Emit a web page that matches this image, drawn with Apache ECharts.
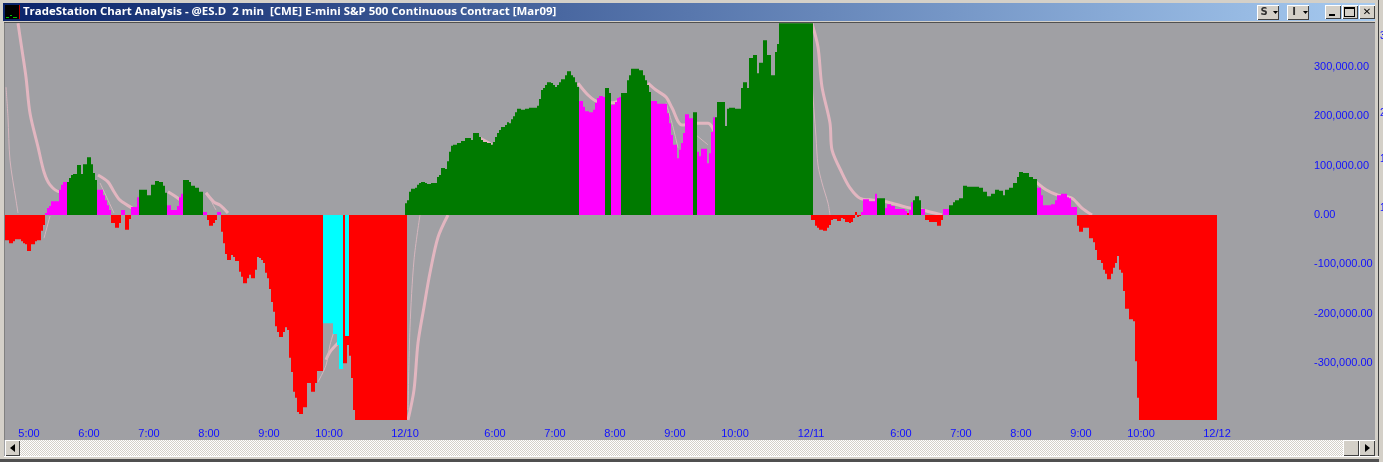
<!DOCTYPE html>
<html><head><meta charset="utf-8"><style>html,body{margin:0;padding:0;background:#D4D0C8;overflow:hidden}#c{width:1383px;height:462px}</style>
<script src="https://cdn.jsdelivr.net/npm/echarts@6/dist/echarts.min.js"></script></head>
<body><div id="c"></div>
<script>
// values in thousands, one per 2-minute bar
const red1=[-51,-51,-57,-57,-53,-49,-49,-49,-53,-57,-59,-73,-73,-59,-59,-53,-51,-51,-32,-20];
const mag1=[4,14,18,28,28,28,28,51,61,67,67];
const grn1=[67,75,81,83,83,101,101,83,103,103,117,117,103,85,71];
const mag2=[51,51,51,40,30,20,10];
const red2=[-16,-16,-26,-26,-16];
const mag3=[10,10];
const red3=[-30,-30,-8];
const mag4=[16,16,16,36];
const grn2=[51,51,51,51,40,40,61,61,69,69,67,67,59,45];
const mag5=[20,20,10,10,10,18,36,43];
const grn3=[71,71,71,67,59,59,55,55,47,47];
const mag6=[6,6];
const red4=[-10,-22,-22,-16,-10];
const mag7=[6,6];
const red5=[-34,-57,-79,-91,-91,-81,-85,-93,-93,-115,-125,-138,-138,-128,-121,-128,-128,-111,-85,-87,-91,-97,-117,-128,-150,-176,-196,-225,-237,-247,-247,-237,-227,-233,-289,-318,-358,-370,-399,-403,-403,-389,-389,-340,-340,-358,-358,-340,-316,-316,-316];
const cyn1=[-219,-219,-219,-219,-219,-241,-241,-263,-312,-312];
const red6=[-300,-300,-263,-285,-330,-395,-415,-415,-415,-415,-415,-415,-415,-415,-415,-415,-415,-415,-415,-415,-415,-415,-415,-415,-415,-415,-415,-415,-415,-415,-415,-415];
const cyn2=[-245,-245];
const grn4=[24,30,47,53,53,55,61,65,67,67,65,63,63,65,65,65,77,81,95,95,93,109,128,140,142,142,146,146,150,150,156,156,156,152,166,166,166,158,152,148,148,146,146,142,148,158,166,172,178,178,182,188];
const grn5=[186,194,200,208,215,215,213,213,215,215,217,217,217,217,221,235,253,257,263,269,269,267,263,259,263,269,275,275,283,291,291,283,279,269,259];
const mag8=[231,231,219,210,210,208,208,213,227,237,241,241,239];
const grn6=[257,257,247];
const mag9=[223,223,229,237,239];
const grn7=[247,247,247,273,283,296,296,296,296,293,293,283,273,263,249];
const mag10=[231,231,231,225,225,225,225,225,206,186,162,142,142,115,132,146,166,204,204,196,196];
const grn8=[208,208];
const mag11=[128,119,134,134,134,105,125,168,198];
const grn9=[198,229,229,229,229,180,215,217,217,217,215,215,215,257,269,269,257,318,318,324,324,287,308,308,354,354,324,324,283,283,330,346,388,388,388,388,388,388,388,388,388,388,388,388,388,388,388,388,388];
const red7=[-10,-10,-22,-26,-30,-30,-32,-32,-26,-20,-10,-8,-8,-12,-12,-6,-8,-14,-14,-16,-14,-6,6,-4,-2];
const mag12=[6,32,32,32,28,28,28,43];
const grn10=[34,34,34,34];
const mag13=[14,22,22,18,18,12,12,12,12,12,8];
const red8=[4];
const mag14=[10,26];
const grn11=[30,38,38,30];
const mag15=[12,12];
const red9=[-10,-10,-14,-14,-14,-14,-22,-22,-10];
const mag16=[12,12,12];
const grn12=[20,20,26,30,30,34,34,59,59,57,57,57,57,57,57,55,55,47,47,38,38,43,43,51,51,49,49,40,51,51,55,55,65,65,77,87,87,85,85,85,77,77,73,73];
const mag17=[55,55,40,20,20,20,20,22,22,30,40,40,43,43,43,36,34,16,16,16];
const red10=[-22,-34,-34,-26,-26,-26,-47,-47,-55,-71,-91,-91,-97,-111,-119,-130,-130,-119,-107,-97,-83,-111,-117,-154,-190,-190,-211,-211,-215,-296,-370,-415,-415,-415,-415,-415,-415,-415,-415,-415,-415,-415,-415,-415,-415,-415,-415,-415,-415,-415,-415,-415,-415,-415,-415,-415,-415,-415,-415,-415,-415,-415,-415,-415,-415,-415,-415,-415,-415,-415];
// [first bar index, values]
const redRuns=[[0,red1],[53,red2],[60,red3],[101,red4],[108,red5],[169,red6],[403,red7],[451,red8],[460,red9],[536,red10]];
const magRuns=[[20,mag1],[46,mag2],[58,mag3],[63,mag4],[81,mag5],[99,mag6],[106,mag7],[287,mag8],[303,mag9],[323,mag10],[346,mag11],[428,mag12],[440,mag13],[452,mag14],[458,mag15],[469,mag16],[516,mag17]];
const grnRuns=[[31,grn1],[67,grn2],[89,grn3],[200,grn4],[252,grn5],[300,grn6],[308,grn7],[344,grn8],[355,grn9],[436,grn10],[454,grn11],[472,grn12]];
const cynRuns=[[159,cyn1],[170,cyn2]];
// envelope lines: [bar index, value]
const thickA=[[6,388],[8,334],[10,279],[12,206],[16,138],[19,87],[22,61],[27,47],[31,51]];
const thickB=[[46,81],[51,67],[54,47],[57,30],[63,14],[66,4]];
const thickC=[[81,47],[86,34],[89,24]];
const thickD=[[100,45],[104,26],[107,20],[111,4]];
const thickF=[[160,-293],[162,-277],[166,-259]];
const thickG=[[201,-415],[204,-354],[206,-259],[209,-186],[212,-117],[216,-45],[221,0]];
const thickH=[[237,156],[243,142]];
const thickI=[[286,267],[291,243],[296,229],[303,227],[310,237]];
const thickJ=[[321,267],[325,253],[330,239],[333,217],[338,182],[345,186],[351,186],[356,152]];
const thickK=[[403,388],[406,340],[408,259],[412,186],[413,132],[418,85],[422,55],[427,34],[434,30],[441,26],[450,16],[458,10],[468,0]];
const thickE=[[515,67],[520,51],[526,40],[533,34],[538,14],[543,0]];
const thin1=[[0,259],[1,198],[2,111],[5,30],[6,4]];
const thin2=[[19,-47],[22,-2]];
const thin3=[[47,65],[54,4]];
const thin4=[[101,40],[105,10]];
const thin5=[[156,-338],[160,-304],[162,-263],[165,-223]];
const thin6=[[201,-395],[202,-227],[204,-91],[207,0]];
const thin7=[[402,388],[403,273],[405,158],[406,101],[408,65],[411,24],[412,0]];
const thin8=[[330,227],[333,186],[336,136]];
const thin9=[[345,162],[351,142]];
const thickLines=[thickA,thickB,thickC,thickD,thickF,thickG,thickH,thickI,thickJ,thickK,thickE];
const thinLines=[thin1,thin2,thin3,thin4,thin5,thin6,thin7,thin8,thin9];
// axis labels
const tickIdx=[12,42,72,102,132,162,200,245,275,305,335,365,403,448,478,508,538,568,606];
const tickTxt=['5:00','6:00','7:00','8:00','9:00','10:00','12/10','6:00','7:00','8:00','9:00','10:00','12/11','6:00','7:00','8:00','9:00','10:00','12/12'];
const yTicks=[-300,-200,-100,0,100,200,300];
const titleText='TradeStation Chart Analysis - @ES.D  2 min  [CME] E-mini S&P 500 Continuous Contract [Mar09]';

const N=607;
const cats=new Array(N).fill('');tickIdx.forEach((k,i)=>cats[k]=tickTxt[i]);
function fill(runs){const a=new Array(N).fill(null);runs.forEach(([s,v])=>v.forEach((x,i)=>a[s+i]=x));return a;}
function bar(name,runs,color,z){return{name,type:'bar',data:fill(runs),barWidth:2,barGap:'-100%',itemStyle:{color},z,silent:true};}
function line(d,w,color){return{type:'line',data:d,symbol:'none',smooth:0.3,lineStyle:{width:w,color},z:1,silent:true};}
const FACE='#D4D0C8',BG='#A0A0A4',BLUE='#1010FF';
const r=(x,y,w,h,fill,z)=>({type:'rect',shape:{x,y,width:w,height:h},style:{fill},z:z||100,silent:true});
const t=(x,y,text,font,fill,align)=>({type:'text',style:{x,y,text,font,fill,align:align||'left',verticalAlign:'middle'},z:110,silent:true});
function btn(x,y,w,h){return[r(x,y,w,h,'#FFFFFF'),r(x+1,y+1,w-1,h-1,'#404040'),r(x+1,y+1,w-2,h-2,FACE)];}
const tri=(pts,fill)=>({type:'polygon',shape:{points:pts},style:{fill},z:110,silent:true});
// dither for the scrollbar track
const pat=document.createElement('canvas');pat.width=2;pat.height=2;const pc=pat.getContext('2d');pc.fillStyle='#FFFFFF';pc.fillRect(0,0,2,2);pc.fillStyle=FACE;pc.fillRect(0,0,1,1);pc.fillRect(1,1,1,1);
const chrome=[
 r(0,0,1383,3,FACE,90),r(0,0,4,462,FACE,90),r(4,22,1,418,'#808080',90),r(1375,3,3,459,FACE,90),r(1378,0,1,462,'#404040',90),r(1379,0,4,462,'#D4D0C8',90),
 {type:'rect',shape:{x:3,y:3,width:1372,height:18},style:{fill:{type:'linear',x:0,y:0,x2:1,y2:0,colorStops:[{offset:0,color:'#0A246A'},{offset:1,color:'#A6CAF0'}]}},z:100,silent:true},
 r(3,21,1372,1,FACE,100),r(4,22,1371,1,'#505050',100),
 r(5,5,14,14,'#000000'),r(19,5,1,14,'#C00000'),r(6,17,3,1,'#00C000'),r(10,15,2,1,'#00C000'),r(13,17,4,1,'#00C000'),
 t(23,12,titleText,'bold 11.45px "Open Sans"','#FFFFFF'),
 ...btn(1257,5,22,15),t(1264,12.5,'S','bold 10px "DejaVu Sans"','#303030','center'),tri([[1273,11],[1278,11],[1275.5,14]],'#000'),
 ...btn(1287,5,22,15),t(1294,12.5,'I','bold 10px "DejaVu Sans"','#303030','center'),tri([[1303,11],[1308,11],[1305.5,14]],'#000'),
 ...btn(1325,5,16,14),r(1329,14,6,2,'#000'),
 ...btn(1342,5,16,14),r(1344,7,11,10,'#000'),r(1345,9,9,7,FACE),
 ...btn(1359,5,16,14),t(1367,12,'✕','bold 10px "DejaVu Sans"','#000','center'),
 {type:'rect',shape:{x:5,y:440,width:1370,height:16},style:{fill:{image:pat,repeat:'repeat'}},z:100,silent:true},
 r(4,456,1375,1,'#FFFFFF'),r(4,457,1375,2,FACE),r(0,459,1379,3,'#505050'),
 ...btn(5,440,15,16),tri([[15,444],[15,452],[10,448]],'#000'),
 ...btn(1343,440,16,16),
 ...btn(1359,440,16,16),tri([[1365,444],[1365,452],[1370,448]],'#000'),
 t(1380,36,'3','10px "Liberation Sans"',BLUE),t(1380,113,'2','10px "Liberation Sans"',BLUE),t(1380,159,'1','10px "Liberation Sans"',BLUE),t(1380,208,'1','10px "Liberation Sans"',BLUE)
];
const chart=echarts.init(document.getElementById('c'),null,{renderer:'canvas',width:1383,height:462});
chart.setOption({
 animation:false,backgroundColor:BG,
 grid:{left:5,top:23,width:1214,height:397,containLabel:false},
 xAxis:{type:'category',data:cats,axisLine:{show:false},axisTick:{show:false},splitLine:{show:false},
  axisLabel:{interval:0,hideOverlap:false,margin:8,padding:[0,2,0,0],color:BLUE,fontFamily:'Liberation Sans',fontSize:11}},
 yAxis:{type:'value',position:'right',min:-415,max:388.7,axisLine:{show:false},axisTick:{show:false},splitLine:{show:false},
  axisLabel:{customValues:yTicks,margin:95,align:'left',color:BLUE,fontFamily:'Liberation Sans',fontSize:11,padding:[0,0,2,0],
   formatter:v=>(v*1000).toLocaleString('en-US',{minimumFractionDigits:2,maximumFractionDigits:2})}},
 graphic:{elements:chrome},
 series:[
  ...thickLines.map(d=>line(d,3,'#E2B6C0')),
  ...thinLines.map(d=>line(d,1,'#D6B6BE')),
  bar('red',redRuns,'#FF0000',3),
  bar('green',grnRuns,'#007A00',4),
  bar('magenta',magRuns,'#FF00FF',4),
  bar('cyan',cynRuns,'#00FFFF',5)
 ]
});
</script></body></html>
